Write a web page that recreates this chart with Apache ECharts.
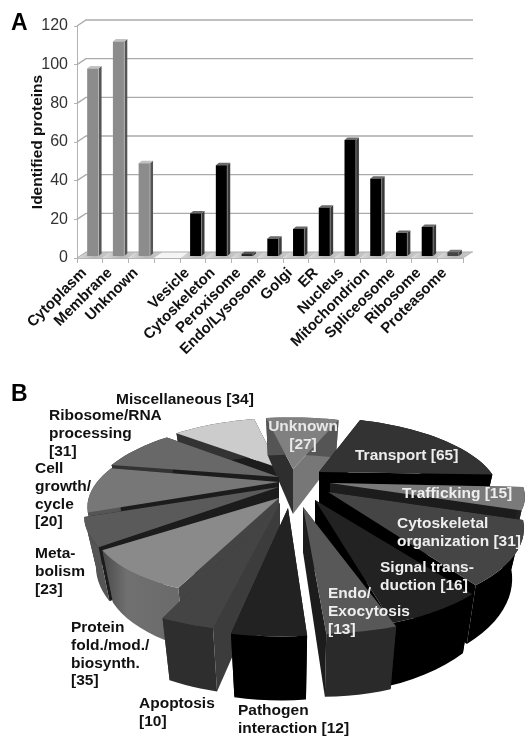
<!DOCTYPE html>
<html><head><meta charset="utf-8">
<style>html,body{margin:0;padding:0;background:#fff}#c{width:528px;height:736px}</style>
<script src="https://cdn.jsdelivr.net/npm/echarts@6/dist/echarts.min.js"></script>
</head><body><div id="c"></div>
<script>
const categories=['Cytoplasm','Membrane','Unknown','','Vesicle','Cytoskeleton','Peroxisome','Endo/Lysosome','Golgi','ER','Nucleus','Mitochondrion','Spliceosome','Ribosome','Proteasome'];
const identifiedProteins=[97,111,48,null,22,47,1,9,14,25,60,40,12,15,2];
const yTicks=[0,20,40,60,80,100,120];
const sliceNames=['Unknown [27]','Transport [65]','Trafficking [15]','Cytoskeletal organization [31]','Signal transduction [16]','Endo/Exocytosis [13]','Pathogen interaction [12]','Apoptosis [10]','Protein fold./mod./biosynth. [35]','Metabolism [23]','Cell growth/cycle [20]','Ribosome/RNA processing [31]','Miscellaneous [34]'];
const sliceValues=[27,65,15,31,16,13,12,10,35,23,20,31,34];
// style tables for the pie
const sliceTop=['#808080','#333333','#7a7a7a','#454545','#222222','#585858','#222222','#444444','#8a8a8a','#5a5a5a','#777777','#686868','#cccccc'];
const sliceWall=['#555555','#000000','#222222','#000000','#000000','#2a2a2a','#000000','#2e2e2e','#666666','#555555','#555555','#333333','#333333'];
const sliceFace=['#2e2e2e','#000000','#1c1c1c','#000000','#000000','#1c1c1c','#111111','#3c3c3c','#444444','#1c1c1c','#1c1c1c','#1c1c1c','#1c1c1c'];
const sliceFaceEnd=['#777777','#000000','#1c1c1c','#000000','#000000','#1c1c1c','#111111','#3c3c3c','#444444','#1c1c1c','#1c1c1c','#1c1c1c','#1c1c1c'];
const sliceOffset=[[14,-14],[40,-11],[51,0],[49,9],[36,17],[24,24],[9,25],[1,20],[0,15],[0,4],[0,-1],[0,-6],[0,-15]];
const sliceTurn=[2.8,3.7,8.2,8.3,11,10.3,10.4,13.3,14.7,2.9,-4.1,5.3,1.4];
const sliceSweep=[1.13,1.05,1,1.12,1.15,.95,1.08,.95,.78,.75,1.5,.92,1.05];
const sliceRadius=[1.04,1.10,1.06,.99,.99,.99,.98,.99,.873,.953,.97,1.03,.95];
const sliceRadiusEnd=[1.03,.96,.975,.967,.99,.975,.987,1,.925,.987,1.05,1.10,.98];
const sliceLift=[25,0,0,0,0,0,0,0,0,0,0,0,0];
const PIE={cx:279,cy:483,rx:178,ry:73,k:0.45,h:45,hs:24,inset:.94,start:-15};
const pieLabels=[
 {t:'Miscellaneous [34]',x:116,y:391,c:'#111'},
 {t:'Ribosome/RNA\nprocessing\n[31]',x:49,y:407,c:'#111'},
 {t:'Cell\ngrowth/\ncycle\n[20]',x:35,y:460,c:'#111'},
 {t:'Meta-\nbolism\n[23]',x:35,y:545,c:'#111'},
 {t:'Protein\nfold./mod./\nbiosynth.\n[35]',x:71,y:619,c:'#111'},
 {t:'Apoptosis\n[10]',x:139,y:695,c:'#111'},
 {t:'Pathogen\ninteraction [12]',x:238,y:702,c:'#111'},
 {t:'Unknown\n[27]',x:303,y:418,c:'#e8e8e8',a:'center'},
 {t:'Transport [65]',x:355,y:447,c:'#eee'},
 {t:'Trafficking [15]',x:402,y:485,c:'#eee'},
 {t:'Cytoskeletal\norganization [31]',x:397,y:515,c:'#eee'},
 {t:'Signal trans-\nduction [16]',x:380,y:559,c:'#eee'},
 {t:'Endo/\nExocytosis\n[13]',x:328,y:585,c:'#eee'}
];
const FONT='"Liberation Sans",Arial,sans-serif';
const chart=echarts.init(document.getElementById('c'),null,{renderer:'canvas'});
const DX=9,DY=-6;

function wallItem(params,api){
  const v=api.value(0);
  const band=api.size([1,0])[0];
  const p=api.coord([0,v]);
  const x0=p[0]-band/2, y=p[1];
  const x1=api.coord([categories.length-1,v])[0]+band/2;
  const line={stroke:'#ababab',lineWidth:v===0?1:1.4,fill:null};
  const kids=[];
  if(v===0){
    categories.forEach((c,i)=>{
      const a=x0+band*i;
      kids.push({type:'polygon',shape:{points:[[a,y],[a+DX,y+DY],[a+band+DX,y+DY],[a+band,y]]},
        style:{fill:c===''?'#f4f4f4':{type:'linear',x:0,y:0,x2:1,y2:0,colorStops:[{offset:0,color:'#dcdcdc'},{offset:.5,color:'#b6b6b6'},{offset:1,color:'#cfcfcf'}]}},silent:true});
    });
  }
  kids.push({type:'polyline',shape:{points:[[x0,y],[x0+DX,y+DY],[x1+DX+1,y+DY]]},style:line,silent:true});
  if(v===0) kids.push({type:'line',shape:{x1:x1,y1:y,x2:x1+DX,y2:y+DY},style:{stroke:'#b4b4b4',lineWidth:1},silent:true});
  return {type:'group',children:kids};
}
function barItem(params,api){
  const i=api.value(0), v=api.value(1);
  if(v==null||isNaN(v)) return null;
  const top=api.coord([i,v]), base=api.coord([i,0]);
  const w=11.4, sd=3, up=2.4;
  const x0=top[0]+3-w/2, x1=x0+w, yT=top[1]-2, yB=base[1]-2;
  const grey=i<3;
  const pal=grey?{f:'#8c8c8c',s:'#555555',t:'#c2c2c2',e:'#bdbdbd'}:{f:'#000000',s:'#3a3a3a',t:'#6a6a6a',e:'#8a8a8a'};
  if(i===14) {pal.f='#444';pal.t='#777';}
  if(i===6) {pal.f='#222';pal.t='#555';}
  return {type:'group',children:[
    {type:'polygon',shape:{points:[[x1,yT],[x1+sd,yT-up],[x1+sd,yB-up],[x1,yB]]},style:{fill:pal.s}},
    {type:'polygon',shape:{points:[[x0,yT],[x0+sd,yT-up],[x1+sd,yT-up],[x1,yT]]},style:{fill:pal.t}},
    {type:'rect',shape:{x:x0,y:yT,width:w,height:Math.max(yB-yT,0.5)},style:{fill:pal.f}},
    {type:'line',shape:{x1:x1,y1:yT,x2:x1,y2:yB},style:{stroke:pal.e,lineWidth:0.8}}
  ]};
}
const total=sliceValues.reduce((a,b)=>a+b,0);
function pt(theta,r,ox,oy){
  const a=theta*Math.PI/180, X=r*Math.sin(a), Z=r*Math.cos(a), s=1/(1+PIE.k*Z);
  return {x:PIE.cx+ox+PIE.rx*X*s, y:PIE.cy+oy-PIE.ry*Z*s, s:s};
}
function pieItem(params,api){
  const idx=params.dataIndex, val=api.value(0);
  let before=0; for(let j=0;j<idx;j++) before+=sliceValues[j];
  const a0=PIE.start+before/total*360+sliceTurn[idx], a1=a0+sliceSweep[idx]*val/total*360;
  const [ox,oy]=sliceOffset[idx], r0=sliceRadius[idx], r1=sliceRadiusEnd[idx];
  const arc=[]; const n=Math.max(6,Math.ceil((a1-a0)/3));
  for(let j=0;j<=n;j++) arc.push(pt(a0+(a1-a0)*j/n,r0+(r1-r0)*j/n,ox,oy));
  const apex=pt(0,0,ox,oy);
  const low=p=>[apex.x+(p.x-apex.x)*PIE.inset, p.y+PIE.h+(p.s-1)*PIE.hs];
  const top=[[apex.x,apex.y]].concat(arc.map(p=>[p.x,p.y]));
  const wall=arc.map(p=>[p.x,p.y]).concat(arc.slice().reverse().map(low));
  const face=p=>[[apex.x,apex.y],[p.x,p.y],low(p),[apex.x,apex.y+PIE.h]];
  const mid=(a0+a1)/2*Math.PI/180;
  const z=Math.round(100-Math.cos(mid)*80)+sliceLift[idx];
  const wallFill=idx===8?{type:'linear',x:0,y:0,x2:1,y2:0,colorStops:[{offset:0,color:'#4a4a4a'},{offset:.3,color:'#707070'},{offset:1,color:'#6a6a6a'}]}:sliceWall[idx];
  return {type:'group',children:[
    {type:'polygon',z2:z,shape:{points:face(arc[0])},style:{fill:sliceFace[idx]}},
    {type:'polygon',z2:z,shape:{points:face(arc[n])},style:{fill:sliceFaceEnd[idx]}},
    {type:'polygon',z2:z+1,shape:{points:wall},style:{fill:wallFill}},
    {type:'polygon',z2:z+2,shape:{points:top},style:{fill:sliceTop[idx]}}
  ]};
}
const graphics=[
 {type:'text',left:11,top:12,style:{text:'A',font:'bold 23px '+FONT,fill:'#000'}},
 {type:'text',left:11,top:383,style:{text:'B',font:'bold 23px '+FONT,fill:'#000'}}
];
pieLabels.forEach(l=>{
  graphics.push({type:'text',z:50,x:l.x,y:l.y,style:{text:l.t,font:'bold 15.5px '+FONT,fill:l.c,lineHeight:17.7,textAlign:l.a||'left',textVerticalAlign:'top'}});
});
chart.setOption({
  animation:false,
  grid:{left:77,top:26,width:386,height:232,containLabel:false},
  xAxis:{type:'category',data:categories,boundaryGap:true,
    axisLine:{show:true,lineStyle:{color:'#b4b4b4',width:1}},
    axisTick:{show:true,alignWithLabel:false,length:5,lineStyle:{color:'#b4b4b4'},interval:0},
    axisLabel:{interval:0,rotate:45,margin:7,padding:[0,8,0,0],color:'#111',fontFamily:FONT,fontWeight:'bold',fontSize:15},
    splitLine:{show:false}},
  yAxis:{type:'value',min:0,max:120,interval:20,name:'Identified proteins',nameLocation:'middle',nameGap:31,nameMoveOverlap:false,
    nameTextStyle:{fontFamily:FONT,fontWeight:'bold',fontSize:15.5,color:'#111'},
    axisLine:{show:true,lineStyle:{color:'#b4b4b4',width:1}},
    axisTick:{show:true,length:3,lineStyle:{color:'#b4b4b4'}},
    axisLabel:{color:'#333',fontFamily:FONT,fontSize:16,margin:9},
    splitLine:{show:false}},
  graphic:graphics,
  series:[
    {type:'custom',name:'wall',coordinateSystem:'cartesian2d',data:yTicks.map(v=>[v]),encode:{x:[],y:0},renderItem:wallItem,silent:true,z:1,clip:false},
    {type:'custom',name:'Identified proteins',coordinateSystem:'cartesian2d',data:identifiedProteins.map((v,i)=>[i,v]),encode:{x:0,y:1},renderItem:barItem,silent:true,z:3,clip:false},
    {type:'custom',name:'Protein function',coordinateSystem:'none',data:sliceValues.map((v,i)=>({name:sliceNames[i],value:[v]})),renderItem:pieItem,silent:true,z:5}
  ]
});
</script></body></html>
